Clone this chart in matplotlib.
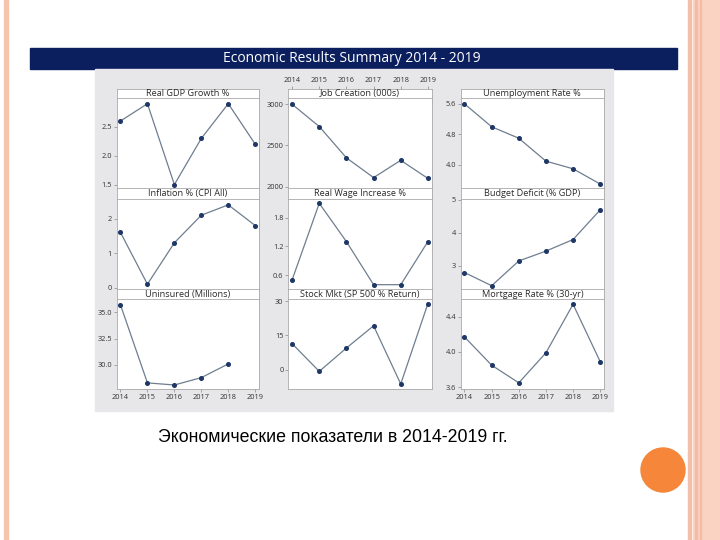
import matplotlib.pyplot as plt
import matplotlib.patches as patches
import numpy as np

W, H = 720, 540

years = [2014, 2015, 2016, 2017, 2018, 2019]

titles = ["Real GDP Growth %", "Job Creation (000s)", "Unemployment Rate %",
          "Inflation % (CPI All)", "Real Wage Increase %", "Budget Deficit (% GDP)",
          "Uninsured (Millions)", "Stock Mkt (SP 500 % Return)", "Mortgage Rate % (30-yr)"]

gdp = [2.6, 2.9, 1.5, 2.3, 2.9, 2.2]
jobs = [3000, 2730, 2350, 2110, 2320, 2100]
unemp = [5.6, 5.0, 4.7, 4.1, 3.9, 3.5]
inflation = [1.6, 0.1, 1.3, 2.1, 2.4, 1.8]
wage = [0.5, 2.1, 1.3, 0.4, 0.4, 1.3]
deficit = [2.8, 2.4, 3.15, 3.45, 3.8, 4.7]
uninsured = [35.7, 28.3, 28.1, 28.8, 30.1, np.nan]
stock = [11.4, -0.7, 9.5, 19.2, -6.2, 28.9]
mortgage = [4.17, 3.85, 3.65, 3.99, 4.54, 3.89]

series = [gdp, jobs, unemp, inflation, wage, deficit, uninsured, stock, mortgage]

yticks = [[1.5, 2.0, 2.5], [2000, 2500, 3000], [4.0, 4.8, 5.6],
          [0, 1, 2], [0.6, 1.2, 1.8], [3, 4, 5],
          [30.0, 32.5, 35.0], [0, 15, 30], [3.6, 4.0, 4.4]]
ytick_labels = [["1.5", "2.0", "2.5"], ["2000", "2500", "3000"], ["4.0", "4.8", "5.6"],
                ["0", "1", "2"], ["0.6", "1.2", "1.8"], ["3", "4", "5"],
                ["30.0", "32.5", "35.0"], ["0", "15", "30"], ["3.6", "4.0", "4.4"]]
ylims = [(1.45, 2.99), (1990, 3070), (3.41, 5.74),
         (-0.04, 2.57), (0.31, 2.19), (2.3, 5.03),
         (27.72, 36.26), (-8.4, 30.9), (3.58, 4.6)]

caption = "Экономические показатели в 2014-2019 гг."
header = "Economic Results Summary 2014 - 2019"


def box(x0, y0, x1, y1):
    # pixel box (top-left origin) -> figure fraction rect
    return [x0 / W, 1 - y1 / H, (x1 - x0) / W, (y1 - y0) / H]


fig = plt.figure(figsize=(7.2, 5.4), dpi=100)
fig.patch.set_facecolor('white')

# slide decorations
bg = fig.add_axes([0, 0, 1, 1])
bg.set_xlim(0, W)
bg.set_ylim(H, 0)
bg.axis('off')
bg.add_patch(patches.Rectangle((3.5, 0), 4.5, H, color='#F6C3AE'))
bg.add_patch(patches.Rectangle((688, 0), 2.5, H, color='#F4BFA8'))
bg.add_patch(patches.Rectangle((693, 0), 27, H, color='#FBD3C3'))
bg.add_patch(patches.Rectangle((695, 0), 2, H, color='#F3BCA5'))
bg.add_patch(patches.Rectangle((700, 0), 1.2, H, color='#F3BCA5'))
bg.add_patch(patches.Rectangle((30, 48), 647, 21, color='#0B1F5E'))
bg.text(352, 59, header, color='white', fontsize=10, ha='center', va='center',
        family='Open Sans')
bg.add_patch(patches.Rectangle((95, 69), 518, 342, color='#E7E7E9'))
bg.add_patch(patches.Circle((663, 470), 22, color='#F5863A'))
bg.text(333, 437, caption, fontsize=12.8, ha='center', va='center',
        family='Liberation Sans', color='black')

cols = [(116.7, 259), (288.3, 431.7), (460.7, 604)]
rows = [(88.5, 98.5, 187.5), (187.5, 199, 289), (289, 299, 389)]

for i in range(9):
    r, c = divmod(i, 3)
    x0, x1 = cols[c]
    s0, p0, p1 = rows[r]

    st = fig.add_axes(box(x0, s0, x1, p0))
    st.set_xlim(2013.86, 2019.14)
    st.set_yticks([])
    st.set_facecolor('white')
    for sp in st.spines.values():
        sp.set_color('#A8A8A8')
        sp.set_linewidth(0.6)
    st.text(0.5, 0.45, titles[i], transform=st.transAxes, ha='center', va='center',
            fontsize=6.6, color='#2B2B2B', family='Open Sans')
    if r == 0 and c == 1:
        # year labels for the middle column sit above its title strip
        st.set_xticks(years)
        st.tick_params(axis='x', top=True, labeltop=True, bottom=False, labelbottom=False,
                       length=2, width=0.5, color='#888888', pad=1.5,
                       labelsize=5.3, labelcolor='#333333')
        for lab in st.get_xticklabels():
            lab.set_family('Open Sans')
    else:
        st.set_xticks([])

    ax = fig.add_axes(box(x0, p0, x1, p1))
    ax.set_facecolor('white')
    ax.plot(years, series[i], color='#6E7E90', lw=0.9, marker='o', markersize=2.6,
            markerfacecolor='#1E3766', markeredgecolor='#1E3766')
    ax.set_xlim(2013.86, 2019.14)
    ax.set_ylim(ylims[i])
    ax.set_yticks(yticks[i])
    ax.set_yticklabels(ytick_labels[i])
    ax.set_xticks(years)
    for sp in ax.spines.values():
        sp.set_color('#A8A8A8')
        sp.set_linewidth(0.6)
    ax.tick_params(axis='both', length=2, width=0.5, color='#888888', pad=1.5,
                   labelsize=5.3, labelcolor='#333333')
    if r == 2 and c != 1:
        ax.tick_params(axis='x', bottom=True, labelbottom=True)
    else:
        ax.tick_params(axis='x', bottom=False, labelbottom=False)
    for lab in ax.get_xticklabels() + ax.get_yticklabels():
        lab.set_family('Open Sans')

fig.savefig('out.png', dpi=100)
